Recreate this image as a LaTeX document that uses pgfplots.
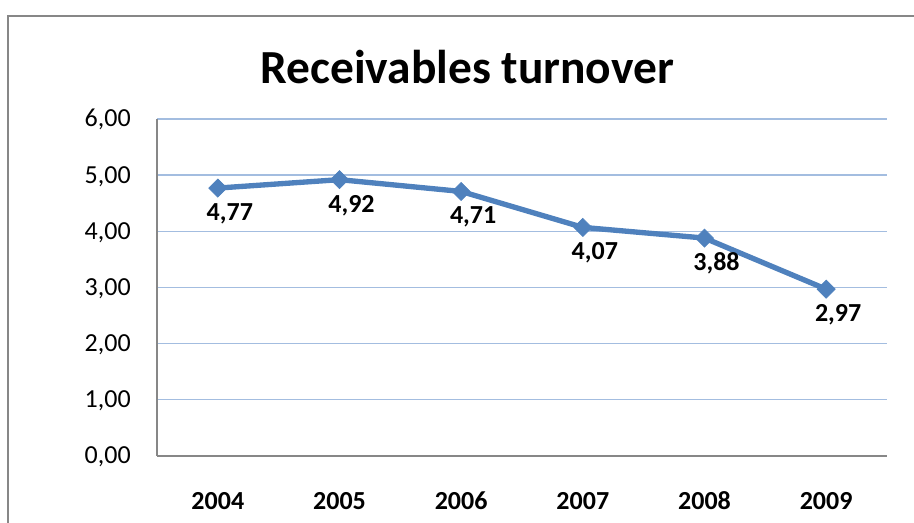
\documentclass[border=0pt]{standalone}
\usepackage{pgfplots}
\pgfplotsset{compat=1.18}
\usepackage{fontspec}
\setmainfont{Carlito}
\definecolor{lineblue}{HTML}{4F81BD}
\definecolor{gridblue}{HTML}{A3BDE0}
\definecolor{framegray}{HTML}{878787}
\begin{document}
\begin{tikzpicture}
\useasboundingbox (0,0) rectangle (685.5pt,392.25pt);
\clip (0,0) rectangle (685.5pt,392.25pt);
\draw[framegray, line width=1.2pt] (6pt,-20pt) rectangle (720pt,380.25pt);
\begin{axis}[
  at={(117.75pt,50.25pt)}, anchor=south west,
  scale only axis, width=547.5pt, height=252.75pt,
  xmin=-0.5, xmax=5.5, ymin=0, ymax=6,
  xtick={0,1,2,3,4,5},
  xticklabels={2004,2005,2006,2007,2008,2009},
  ytick={0,1,2,3,4,5,6},
  major tick length=0pt,
  axis x line*=bottom, axis y line*=left,
  axis line style={framegray, line width=1pt},
  ymajorgrids, grid style={gridblue, line width=1pt},
  /pgf/number format/assume math mode=true,
  yticklabel style={/pgf/number format/fixed, /pgf/number format/fixed zerofill, /pgf/number format/precision=2, /pgf/number format/use comma},
  ticklabel style={font=\fontsize{19.5}{22}\selectfont},
  yticklabel style={anchor=base east, inner sep=0pt, xshift=-19.5pt, yshift=-6pt},
  xticklabel style={anchor=base, inner sep=0pt, yshift=-40.5pt, font=\fontsize{19.5}{22}\selectfont\bfseries},
  nodes near coords={\pgfmathprintnumber[fixed, fixed zerofill, precision=2, use comma, assume math mode=true]{\pgfplotspointmeta}},
  nodes near coords style={anchor=base, inner sep=0pt, xshift=9pt, yshift=-24.4pt, font=\fontsize{19.5}{22}\selectfont\bfseries, black},
  clip=false,
]
\addplot[lineblue, line width=4pt, mark=square*, mark size=4.8pt,
  mark options={rotate=45, solid, fill=lineblue, draw=lineblue, line width=0.5pt}]
  coordinates {(0,4.77) (1,4.92) (2,4.71) (3,4.07) (4,3.88) (5,2.97)};
\end{axis}
\node[anchor=base, inner sep=0pt, font=\fontsize{35.6}{40}\selectfont\bfseries] at (350.5pt,329.8pt) {Receivables turnover};
\end{tikzpicture}
\end{document}
